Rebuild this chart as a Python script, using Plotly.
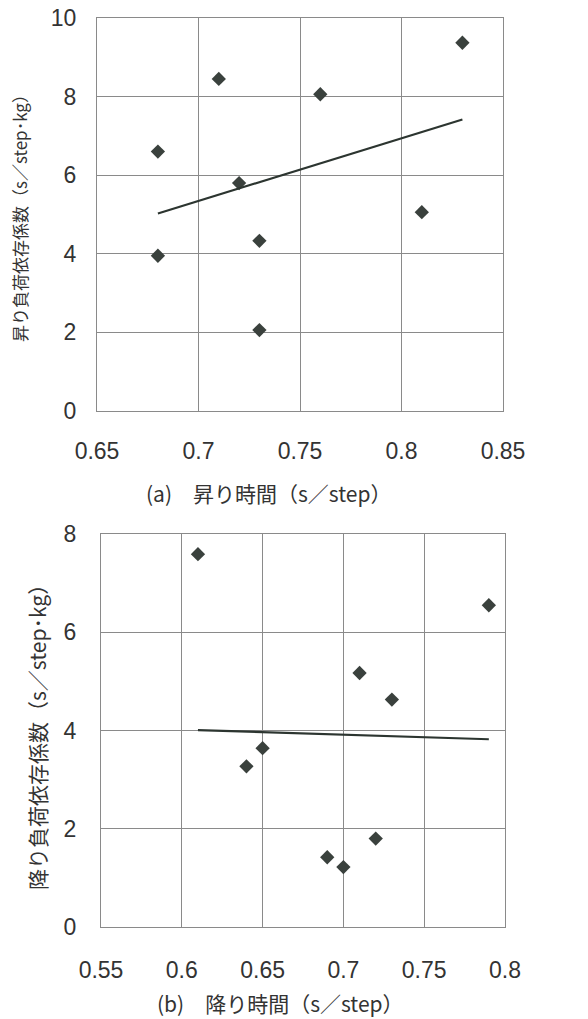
import numpy as np
import plotly.graph_objects as go

# (a) ascending: time per step vs. load-dependence coefficient
up_time = [0.68, 0.68, 0.71, 0.72, 0.73, 0.73, 0.76, 0.81, 0.83]
up_coef = [6.6, 3.95, 8.45, 5.8, 4.33, 2.06, 8.06, 5.06, 9.37]

# (b) descending
down_time = [0.61, 0.64, 0.65, 0.69, 0.70, 0.71, 0.72, 0.73, 0.79]
down_coef = [7.59, 3.27, 3.64, 1.42, 1.22, 5.17, 1.80, 4.63, 6.55]

up_xticks = [0.65, 0.7, 0.75, 0.8, 0.85]
up_yticks = [0, 2, 4, 6, 8, 10]
down_xticks = [0.55, 0.6, 0.65, 0.7, 0.75, 0.8]
down_yticks = [0, 2, 4, 6, 8]

W, H = 588, 1019
MARK = "#3a413d"
LINE = "#2c3530"
GRID = "#8a8a8a"
TXT = "#333333"
NUM_FONT = "Liberation Sans Narrow, Liberation Sans, Arial Narrow, sans-serif"
CJK_FONT = "Noto Sans CJK JP, sans-serif"


def trend(x, y):
    k, b = np.polyfit(x, y, 1)
    xs = np.array([min(x), max(x)])
    return xs, k * xs + b


fig = go.Figure()

for x, y, xa, ya in [(up_time, up_coef, "x", "y"), (down_time, down_coef, "x2", "y2")]:
    fig.add_trace(go.Scatter(
        x=x, y=y, mode="markers", xaxis=xa, yaxis=ya,
        marker=dict(symbol="diamond", size=11, color=MARK),
        showlegend=False, hoverinfo="x+y"))
    tx, ty = trend(x, y)
    fig.add_trace(go.Scatter(
        x=tx, y=ty, mode="lines", xaxis=xa, yaxis=ya,
        line=dict(color=LINE, width=2.2), showlegend=False, hoverinfo="skip"))


def px_x(p):
    return p / W


def px_y(p):
    return 1 - p / H


axis_common = dict(
    showgrid=True, gridcolor=GRID, gridwidth=1,
    showline=True, linecolor=GRID, linewidth=1, mirror=True,
    zeroline=False, ticks="", automargin=False,
    tickfont=dict(family=NUM_FONT, size=23, color=TXT),
)

fig.update_layout(
    width=W, height=H,
    margin=dict(l=0, r=0, t=0, b=0),
    paper_bgcolor="white", plot_bgcolor="white",
    xaxis=dict(axis_common, domain=[px_x(97), px_x(503)], range=[0.65, 0.85],
               tickvals=up_xticks, ticktext=[f"{v:g}" for v in up_xticks],
               anchor="y", ticklabelstandoff=19),
    yaxis=dict(axis_common, domain=[px_y(411), px_y(18)], range=[0, 10],
               tickvals=up_yticks, anchor="x", ticklabelstandoff=15),
    xaxis2=dict(axis_common, domain=[px_x(101), px_x(505)], range=[0.55, 0.8],
                tickvals=down_xticks, ticktext=[f"{v:g}" for v in down_xticks],
                anchor="y2", ticklabelstandoff=22),
    yaxis2=dict(axis_common, domain=[px_y(927), px_y(534)], range=[0, 8],
                tickvals=down_yticks, anchor="x2", ticklabelstandoff=19),
)

annotations = [
    dict(text="(a)\u3000昇り時間（s／step）", x=px_x(268), y=px_y(493),
         font=dict(family=CJK_FONT, size=21, color=TXT)),
    dict(text="(b)\u3000降り時間（s／step）", x=px_x(280), y=px_y(1003),
         font=dict(family=CJK_FONT, size=21, color=TXT)),
    dict(text="昇り負荷依存係数（s／step･kg）", x=px_x(20), y=px_y(214), textangle=-90,
         font=dict(family=CJK_FONT, size=17, color=TXT)),
    dict(text="降り負荷依存係数（s／step･kg）", x=px_x(37), y=px_y(732), textangle=-90,
         font=dict(family=CJK_FONT, size=21, color=TXT)),
]
for a in annotations:
    fig.add_annotation(xref="paper", yref="paper", showarrow=False,
                       xanchor="center", yanchor="middle", **a)

fig.write_html("out.html")
